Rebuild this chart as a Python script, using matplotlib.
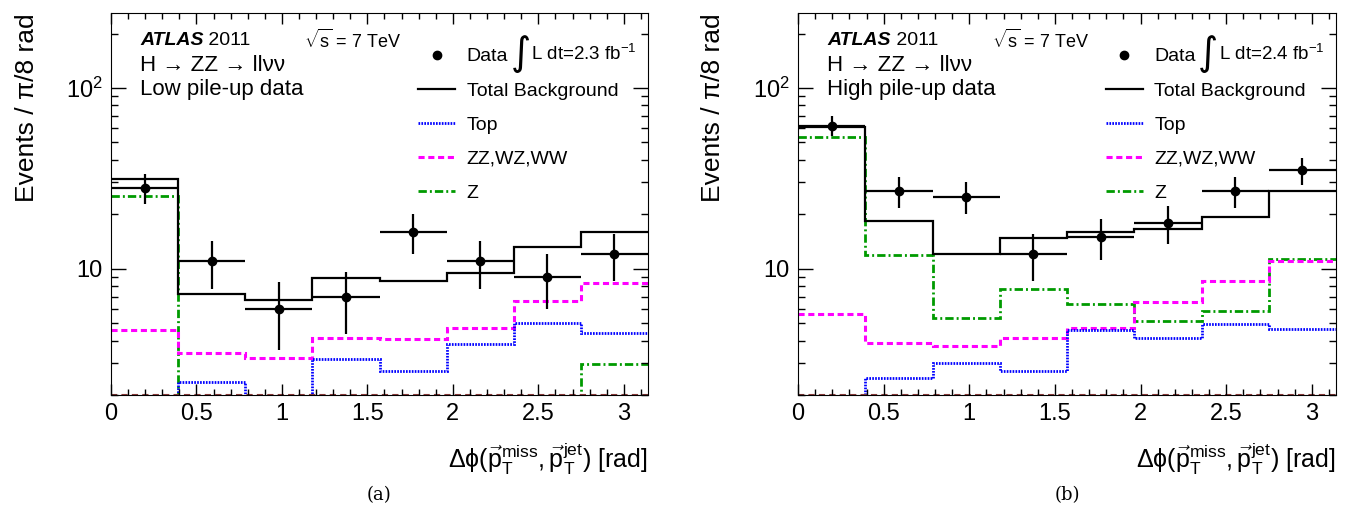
import numpy as np
import matplotlib
matplotlib.use("Agg")
import matplotlib.pyplot as plt
from matplotlib.lines import Line2D
from matplotlib.ticker import FixedLocator, LogLocator, NullFormatter, MultipleLocator, FuncFormatter

plt.rcParams['font.family'] = ['Liberation Sans', 'DejaVu Sans']
plt.rcParams['mathtext.fontset'] = 'custom'
plt.rcParams['mathtext.rm'] = 'Liberation Sans'
plt.rcParams['mathtext.it'] = 'Liberation Sans:italic'
plt.rcParams['mathtext.bf'] = 'Liberation Sans:bold'

# bins: 8 bins of pi/8 in delta phi
edges = np.linspace(0, np.pi, 9)
centers = 0.5 * (edges[1:] + edges[:-1])

# (a) low pile-up
data_a = [28, 11, 6, 7, 16, 11, 9, 12]
total_a = [31.5, 7.2, 6.7, 8.9, 8.55, 9.5, 13.2, 16.0]
top_a = [1.6, 2.36, 1.8, 3.16, 2.72, 3.84, 5.0, 4.42]
diboson_a = [4.6, 3.42, 3.2, 4.16, 4.06, 4.7, 6.6, 8.35]
z_a = [25.3, 1.4, 1.6, 1.5, 1.8, 1.0, 1.6, 2.98]
other_a = [0.3, 0.2, 0.2, 0.2, 0.2, 0.2, 0.2, 0.2]

# (b) high pile-up
data_b = [62, 27, 25, 12, 15, 18, 27, 35]
total_b = [61.2, 18.3, 12.1, 14.8, 15.9, 16.6, 19.2, 27.0]
top_b = [1.5, 2.48, 3.01, 2.7, 4.58, 4.15, 4.94, 4.63]
diboson_b = [5.58, 3.9, 3.75, 4.15, 4.71, 6.58, 8.59, 11.07]
z_b = [53.7, 11.9, 5.35, 7.76, 6.34, 5.13, 5.8, 11.3]
other_b = [0.3, 0.2, 0.2, 0.2, 0.2, 0.2, 0.2, 0.2]

ymin, ymax = 2, 260

col_top = '#0000ff'
col_vv = '#ff00ff'
col_z = '#009a00'
ls_top = (0, (0.6, 0.45))
ls_vv = (0, (2.0, 1.2))
ls_z = (0, (3.0, 1.1, 0.7, 1.1))

fig = plt.figure(figsize=(13.51, 5.13), dpi=100)
ax_a = fig.add_axes([111/1351, 118/513, 537/1351, 382/513])
ax_b = fig.add_axes([798/1351, 118/513, 538/1351, 382/513])


def draw(ax, data, total, top, vv, z, other, lumi, label, caption):
    ax.set_yscale('log')
    ax.stairs(z, edges, baseline=None, color=col_z, lw=2, ls=ls_z)
    ax.stairs(vv, edges, baseline=None, color=col_vv, lw=2.2, ls=ls_vv)
    ax.stairs(top, edges, baseline=None, color=col_top, lw=2, ls=ls_top)
    ax.stairs(np.maximum(other, ymin), edges, baseline=None, color='#8b3a3a', lw=1.5, ls=(0, (3, 2)))
    ax.stairs(total, edges, baseline=None, color='black', lw=1.6)
    ax.errorbar(centers, data, xerr=np.diff(edges) / 2, yerr=np.sqrt(data),
                fmt='o', color='black', ms=6, elinewidth=1.6, capsize=0)

    ax.set_xlim(0, np.pi)
    ax.set_ylim(ymin, ymax)
    ax.xaxis.set_major_locator(MultipleLocator(0.5))
    ax.xaxis.set_minor_locator(MultipleLocator(0.1))
    ax.xaxis.set_major_formatter(FuncFormatter(lambda v, p: '%g' % v))
    ax.yaxis.set_major_locator(FixedLocator([10, 100]))
    ax.yaxis.set_major_formatter(FuncFormatter(lambda v, p: '10' if v < 50 else r'$10^2$'))
    ax.yaxis.set_minor_locator(LogLocator(subs=np.arange(2, 10)))
    ax.yaxis.set_minor_formatter(NullFormatter())
    ax.tick_params(which='both', direction='in', top=True, right=True, labelsize=17, pad=6, width=1)
    ax.tick_params(axis='y', which='major', length=11)
    ax.tick_params(axis='y', which='minor', length=5)
    ax.tick_params(axis='x', which='major', length=8)
    ax.tick_params(axis='x', which='minor', length=4)

    ax.set_ylabel('Events / π/8 rad', fontsize=19, loc='top')
    ax.yaxis.set_label_coords(-0.135, 1.0)
    ax.set_xlabel(r'$\mathrm{\Delta\phi}(\vec{\mathrm{p}}_{\mathrm{T}}^{\mathrm{miss}},\vec{\mathrm{p}}_{\mathrm{T}}^{\mathrm{jet}})$ [rad]',
                  fontsize=18, loc='right')
    ax.xaxis.set_label_coords(1.0, -0.118)

    t = ax.text(0.054, 0.929, 'ATLAS', transform=ax.transAxes, fontsize=14,
                fontweight='bold', fontstyle='italic', va='center')
    ax.annotate(' 2011', xy=(1, 0), xycoords=t, va='bottom', fontsize=14)
    ax.text(0.36, 0.929, r'$\sqrt{\mathrm{s}}$ = 7 TeV', transform=ax.transAxes, fontsize=13, va='center')
    ax.text(0.054, 0.862, 'H → ZZ → llνν', transform=ax.transAxes, fontsize=16, va='center')
    ax.text(0.054, 0.800, label, transform=ax.transAxes, fontsize=16, va='center')

    handles = [Line2D([], [], marker='o', ls='none', color='black', ms=6),
               Line2D([], [], color='black', lw=1.6),
               Line2D([], [], color=col_top, lw=2, ls=ls_top),
               Line2D([], [], color=col_vv, lw=2.2, ls=ls_vv),
               Line2D([], [], color=col_z, lw=2, ls=ls_z)]
    labels = ['Data', 'Total Background', 'Top', 'ZZ,WZ,WW', 'Z']
    ax.legend(handles, labels, loc='upper left', bbox_to_anchor=(0.572, 0.909), frameon=False,
              fontsize=14, handlelength=1.9, handletextpad=0.6, borderpad=0, borderaxespad=0,
              labelspacing=0.85)
    ax.text(0.744, 0.893, '∫', transform=ax.transAxes, va='center', ha='left',
            fontsize=28, family='DejaVu Sans')
    ax.text(0.783, 0.893, r'L dt=%s fb$^{-1}$' % lumi, transform=ax.transAxes,
            va='center', ha='left', fontsize=13.5)

    ax.text(0.5, -0.262, caption, transform=ax.transAxes, fontsize=13, ha='center', va='center',
            family='DejaVu Serif')


draw(ax_a, data_a, total_a, top_a, diboson_a, z_a, other_a, '2.3', 'Low pile-up data', '(a)')
draw(ax_b, data_b, total_b, top_b, diboson_b, z_b, other_b, '2.4', 'High pile-up data', '(b)')

fig.savefig('out.png', dpi=100)
